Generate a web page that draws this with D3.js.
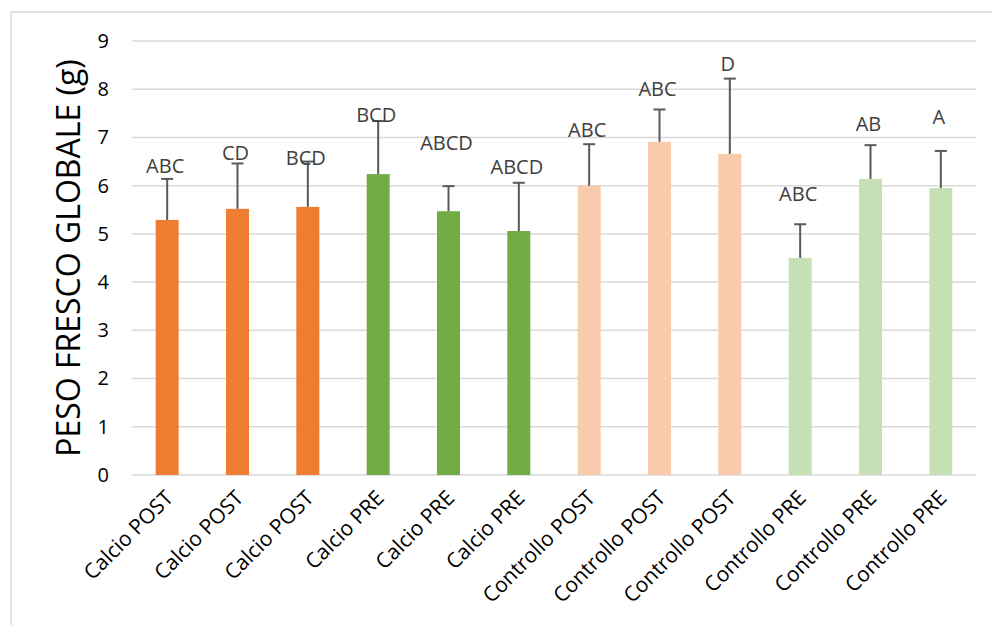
<html>
  <head>
    <script src="https://d3js.org/d3.v7.min.js"></script>
    <style>
      body { margin: 0; background: #fff; }
      text { font-family: "Open Sans", sans-serif; }
    </style>
  </head>
  <body>
    <div id="chart"></div>
    <script>
      // values
      var categories = ["Calcio POST", "Calcio POST", "Calcio POST", "Calcio PRE", "Calcio PRE", "Calcio PRE",
        "Controllo POST", "Controllo POST", "Controllo POST", "Controllo PRE", "Controllo PRE", "Controllo PRE"];
      var values = [5.29, 5.52, 5.56, 6.24, 5.47, 5.06, 6.00, 6.91, 6.66, 4.50, 6.14, 5.95];
      var errors = [0.85, 0.94, 0.94, 1.10, 0.52, 1.00, 0.86, 0.67, 1.56, 0.70, 0.70, 0.77];
      var letters = ["ABC", "CD", "BCD", "BCD", "ABCD", "ABCD", "ABC", "ABC", "D", "ABC", "AB", "A"];
      var letterPos = [6.27, 6.53, 6.43, 7.33, 6.73, 6.24, 7.00, 7.85, 8.38, 5.69, 7.14, 7.28];
      var groupColors = ["#ED7D31", "#ED7D31", "#ED7D31", "#70AD47", "#70AD47", "#70AD47",
        "#F8CBAD", "#F8CBAD", "#F8CBAD", "#C5E0B4", "#C5E0B4", "#C5E0B4"];
      var yTicks = [0, 1, 2, 3, 4, 5, 6, 7, 8, 9];

      var W = 992, H = 625;
      var margin = {top: 41, right: 16, bottom: 150, left: 132};
      var width = W - margin.left - margin.right,
          height = H - margin.top - margin.bottom;

      var svg = d3.select("#chart").append("svg")
        .attr("width", W)
        .attr("height", H);

      // chart frame
      svg.append("rect")
        .attr("x", 11).attr("y", 12)
        .attr("width", W + 10).attr("height", H + 10)
        .attr("fill", "none")
        .attr("stroke", "#d9d9d9")
        .attr("stroke-width", 1.5);

      var g = svg.append("g")
        .attr("transform", "translate(" + margin.left + "," + margin.top + ")");

      var idx = d3.range(categories.length);

      var x = d3.scaleBand()
        .domain(idx)
        .range([0, width])
        .paddingInner(0.673)
        .paddingOuter(0.3365);

      var y = d3.scaleLinear()
        .domain([0, 9])
        .range([height, 0]);

      // gridlines
      g.selectAll(".grid")
        .data(yTicks)
        .enter().append("line")
          .attr("x1", 0).attr("x2", width)
          .attr("y1", function(d) { return y(d); })
          .attr("y2", function(d) { return y(d); })
          .attr("stroke", "#d9d9d9")
          .attr("stroke-width", 1.5);

      // y axis labels
      var yAxis = g.append("g")
        .call(d3.axisLeft(y).tickValues(yTicks).tickSize(0).tickPadding(23));
      yAxis.select(".domain").remove();
      yAxis.selectAll("text")
        .attr("font-size", 20)
        .attr("font-family", "Open Sans")
        .attr("fill", "#000");

      // bars
      g.selectAll(".bar")
        .data(idx)
        .enter().append("rect")
          .attr("x", function(i) { return x(i); })
          .attr("width", x.bandwidth())
          .attr("y", function(i) { return y(values[i]); })
          .attr("height", function(i) { return height - y(values[i]); })
          .attr("fill", function(i) { return groupColors[i]; });

      // error bars
      var eb = g.selectAll(".err")
        .data(idx)
        .enter().append("g")
          .attr("transform", function(i) { return "translate(" + (x(i) + x.bandwidth() / 2) + ",0)"; });
      eb.append("line")
        .attr("x1", 0).attr("x2", 0)
        .attr("y1", function(i) { return y(values[i]); })
        .attr("y2", function(i) { return y(values[i] + errors[i]); })
        .attr("stroke", "#595959").attr("stroke-width", 2);
      eb.append("line")
        .attr("x1", -6).attr("x2", 6)
        .attr("y1", function(i) { return y(values[i] + errors[i]); })
        .attr("y2", function(i) { return y(values[i] + errors[i]); })
        .attr("stroke", "#595959").attr("stroke-width", 2);

      // letters
      g.selectAll(".lbl")
        .data(idx)
        .enter().append("text")
          .attr("x", function(i) { return x(i) + x.bandwidth() / 2 - 2; })
          .attr("y", function(i) { return y(letterPos[i]); })
          .attr("text-anchor", "middle")
          .attr("font-size", 20)
          .attr("fill", "#404040")
          .text(function(i) { return letters[i]; });

      // category labels
      g.selectAll(".cat")
        .data(idx)
        .enter().append("text")
          .attr("transform", function(i) {
            return "translate(" + (x(i) + x.bandwidth() / 2 + 2) + "," + (height + 19) + ") rotate(-45)";
          })
          .attr("text-anchor", "end")
          .attr("dy", "0.35em")
          .attr("font-size", 21)
          .attr("fill", "#000")
          .text(function(i) { return categories[i]; });

      // axis title
      svg.append("text")
        .attr("transform", "translate(80," + (margin.top + height / 2) + ") rotate(-90)")
        .attr("text-anchor", "middle")
        .attr("font-size", 32)
        .attr("fill", "#000")
        .text("PESO FRESCO GLOBALE (g)");
    </script>
  </body>
</html>
